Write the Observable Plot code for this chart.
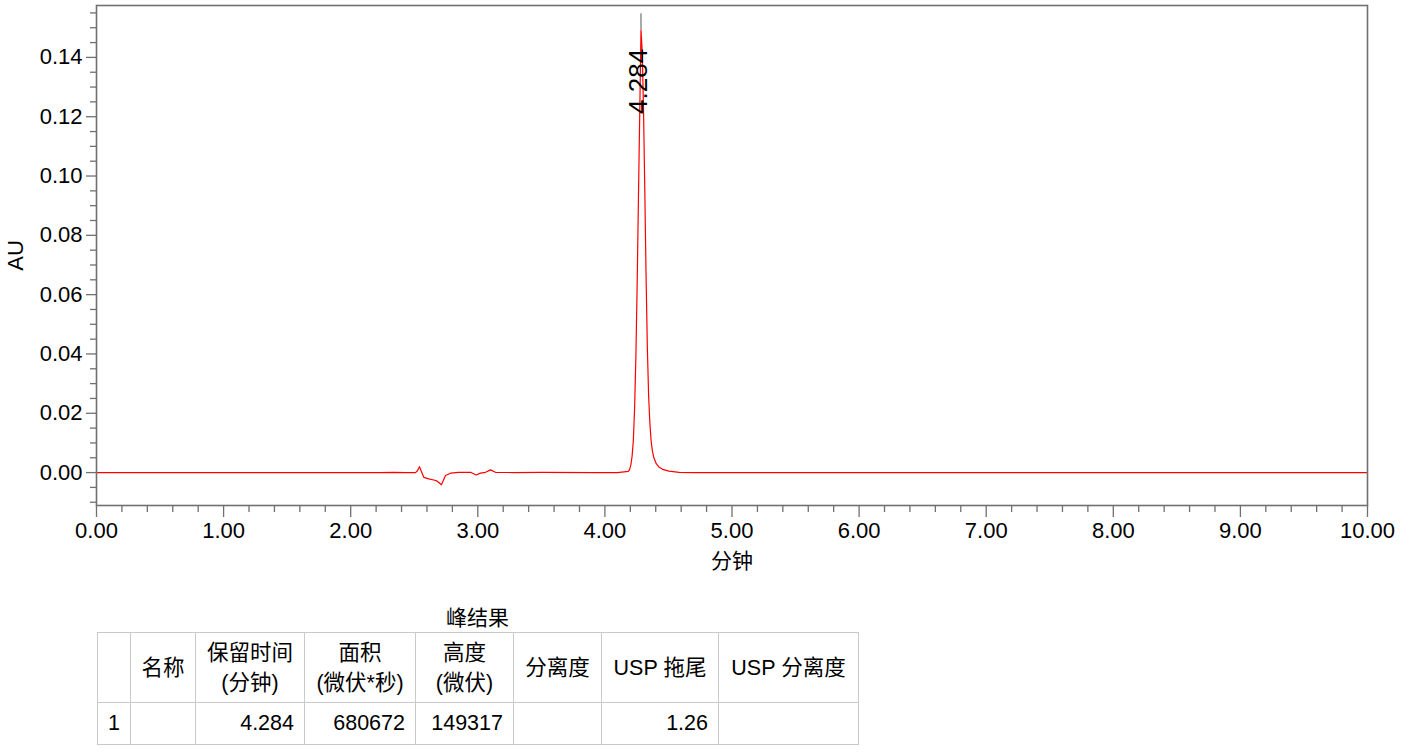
<!DOCTYPE html>
<html>
<head>
<meta charset="utf-8">
<script src="https://cdn.jsdelivr.net/npm/d3@7"></script>
<script src="https://cdn.jsdelivr.net/npm/@observablehq/plot@0.6"></script>
<style>
  html, body { margin: 0; padding: 0; background: #fff; }
  body { width: 1403px; height: 753px; position: relative; overflow: hidden;
         font-family: "Liberation Sans", Arial, "Noto Sans CJK SC", sans-serif; }
  #chart { position: absolute; left: 0; top: 0; }
  #results { position: absolute; left: 97px; top: 603px; width: 761px; }
  #results .title { text-align: center; font-size: 21px; height: 29px; line-height: 29px; color: #000; }
  table { border-collapse: collapse; table-layout: fixed; width: 761px; font-size: 21.5px; color: #000; }
  td, th { border: 1px solid #c9c9c9; padding: 0; font-weight: normal; }
  th { height: 69px; line-height: 30px; text-align: center; vertical-align: middle; }
  td { height: 41px; vertical-align: middle; }
  td.num { text-align: right; padding-right: 10px; }
  td.idx { text-align: left; padding-left: 10px; }
</style>
</head>
<body>
<div id="chart"></div>
<div id="results"></div>
<script>
// ---- chromatogram trace (minutes, AU) ----
const time = [
  0.000, 1.000, 2.000, 2.230, 2.339, 2.431, 2.510, 2.525, 2.541, 2.558, 2.575,
  2.614, 2.654, 2.681, 2.714, 2.746, 2.785, 2.850, 2.943, 2.987, 3.021, 3.061,
  3.100, 3.139, 3.281, 3.500, 3.900, 4.100, 4.184, 4.194, 4.204, 4.214, 4.224,
  4.234, 4.244, 4.254, 4.264, 4.274, 4.284, 4.294, 4.304, 4.314, 4.324, 4.334,
  4.344, 4.354, 4.364, 4.374, 4.384, 4.404, 4.424, 4.454, 4.504, 4.584, 4.700,
  5.000, 6.000, 7.000, 8.000, 9.000, 10.000
];
const au = [
  0.0000, 0.0000, 0.0000, 0.0000, 0.0001, 0.0000, 0.0000, 0.0006, 0.0020, 0.0002, -0.0016,
  -0.0021, -0.0025, -0.0029, -0.0041, -0.0010, -0.0002, 0.0001, 0.0001, -0.0008, -0.0002, 0.0001,
  0.0009, 0.0001, 0.0000, 0.0001, 0.0000, 0.0000, 0.0004, 0.0010, 0.0025, 0.0055, 0.0110,
  0.0221, 0.0395, 0.0639, 0.0927, 0.1208, 0.1493, 0.1416, 0.1220, 0.0950, 0.0660, 0.0420,
  0.0260, 0.0165, 0.0105, 0.0072, 0.0052, 0.0030, 0.0019, 0.0011, 0.0005, 0.0001, 0.0000,
  0.0000, 0.0000, 0.0000, 0.0000, 0.0000, 0.0000
];

// ---- peak annotation ----
const peakTimes = [4.284];
const peakLabels = ["4.284"];
const peakHeights = [0.1493];
const peakMarkerTop = 0.1547;

// ---- axes ----
const yTicks = [0.00, 0.02, 0.04, 0.06, 0.08, 0.10, 0.12, 0.14];
const yMinorTicks = [-0.010, -0.005, 0.005, 0.010, 0.015, 0.025, 0.030, 0.035, 0.045, 0.050, 0.055,
  0.065, 0.070, 0.075, 0.085, 0.090, 0.095, 0.105, 0.110, 0.115, 0.125, 0.130, 0.135, 0.145, 0.150, 0.155];
const xTicks = [0, 1, 2, 3, 4, 5, 6, 7, 8, 9, 10];
const xMinorTicks = d3.range(0, 10.0001, 0.2).filter(v => Math.abs(v - Math.round(v)) > 1e-6);
const xLabel = "分钟";
const yLabel = "AU";

// ---- results table ----
const tableTitle = "峰结果";
const tableHeaders = ["", "名称", "保留时间<br>(分钟)", "面积<br>(微伏*秒)", "高度<br>(微伏)", "分离度", "USP 拖尾", "USP 分离度"];
const colWidths = [33, 65, 109, 111, 98, 88, 117, 140];
const rowValues = ["1", "", "4.284", "680672", "149317", "", "1.26", ""];

const trace = time.map((t, i) => ({t, v: au[i]}));
const peaks = peakTimes.map((t, i) => ({t, h: peakHeights[i], label: peakLabels[i]}));

const axisColor = "#707070";
const chart = Plot.plot({
  width: 1403,
  height: 580,
  marginLeft: 96,
  marginRight: 36,
  marginTop: 5,
  marginBottom: 75,
  style: {fontFamily: "'Liberation Sans', Arial, sans-serif", fontSize: "22px", color: "#000", background: "#fff"},
  x: {domain: [0, 10]},
  y: {domain: [-0.0111, 0.1575]},
  marks: [
    Plot.axisY(yMinorTicks, {tickSize: 6, tickFormat: () => "", stroke: axisColor, strokeWidth: 1.3, label: null}),
    Plot.axisY(yTicks, {tickSize: 10, tickPadding: 4, tickFormat: d => d.toFixed(2), stroke: axisColor, strokeWidth: 1.3, label: null, fontSize: 22}),
    Plot.axisX(xMinorTicks, {tickSize: 7, tickFormat: () => "", stroke: axisColor, strokeWidth: 1.3, label: null}),
    Plot.axisX(xTicks, {tickSize: 12, tickPadding: 5, tickFormat: d => d.toFixed(2), stroke: axisColor, strokeWidth: 1.3, label: null, fontSize: 22}),
    Plot.text([yLabel], {frameAnchor: "left", text: d => d, rotate: -90, textAnchor: "middle", lineAnchor: "middle", dx: -81, fontSize: 22}),
    Plot.text([xLabel], {frameAnchor: "bottom", text: d => d, textAnchor: "middle", dy: 62, fontSize: 21, fontFamily: "'Noto Sans CJK SC', sans-serif"}),
    Plot.ruleX(peaks, {x: "t", y1: "h", y2: () => peakMarkerTop, stroke: "#555", strokeWidth: 1}),
    Plot.line(trace, {x: "t", y: "v", stroke: "#ff0000", strokeWidth: 1.2}),
    Plot.text(peaks, {x: "t", y: d => d.h * 0.81, text: "label", rotate: -90, textAnchor: "start", lineAnchor: "middle", dx: -2, fontSize: 26, fill: "#000"}),
    Plot.frame({stroke: axisColor, strokeWidth: 1.6})
  ]
});
document.getElementById("chart").appendChild(chart);

// build table
const res = document.getElementById("results");
const title = document.createElement("div");
title.className = "title";
title.textContent = tableTitle;
res.appendChild(title);
const table = document.createElement("table");
const colgroup = document.createElement("colgroup");
colWidths.forEach(w => { const c = document.createElement("col"); c.style.width = w + "px"; colgroup.appendChild(c); });
table.appendChild(colgroup);
const hr = document.createElement("tr");
tableHeaders.forEach(h => { const th = document.createElement("th"); th.innerHTML = h; hr.appendChild(th); });
table.appendChild(hr);
const br = document.createElement("tr");
rowValues.forEach((v, i) => { const td = document.createElement("td"); td.textContent = v; td.className = i === 0 ? "idx" : "num"; br.appendChild(td); });
table.appendChild(br);
res.appendChild(table);
</script>
</body>
</html>
